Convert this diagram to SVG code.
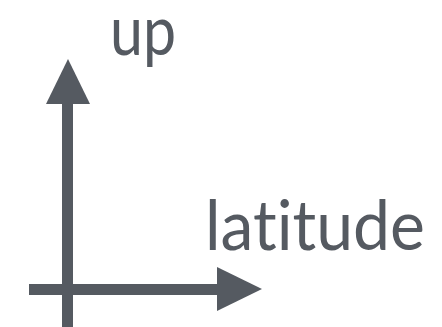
<svg xmlns="http://www.w3.org/2000/svg" width="442" height="327" viewBox="0 0 442 327">
  <style>
    .axis { stroke: #555a61; stroke-width: 11; fill: none; }
    .head { fill: #555a61; }
    .label { font-family: Lato, "Open Sans", sans-serif; font-size: 70px; fill: #555a61; font-variant-ligatures: none; font-feature-settings: "liga" 0; }
  </style>
  <rect width="442" height="327" fill="#ffffff"/>
  <g id="connectors">
    <!-- vertical "up" axis -->
    <line class="axis" x1="67.5" y1="327" x2="67.5" y2="100"/>
    <polygon class="head" points="68,59 90,104 46,104"/>
    <!-- horizontal "latitude" axis -->
    <line class="axis" x1="29" y1="289.5" x2="220" y2="289.5"/>
    <polygon class="head" points="262,289 217,267 217,311"/>
  </g>
  <g id="up-label">
    <text class="label" x="110" y="55" textLength="66" lengthAdjust="spacingAndGlyphs">up</text>
  </g>
  <g id="latitude-label">
    <text class="label" x="205" y="250" textLength="220" lengthAdjust="spacingAndGlyphs">latitude</text>
  </g>
</svg>
